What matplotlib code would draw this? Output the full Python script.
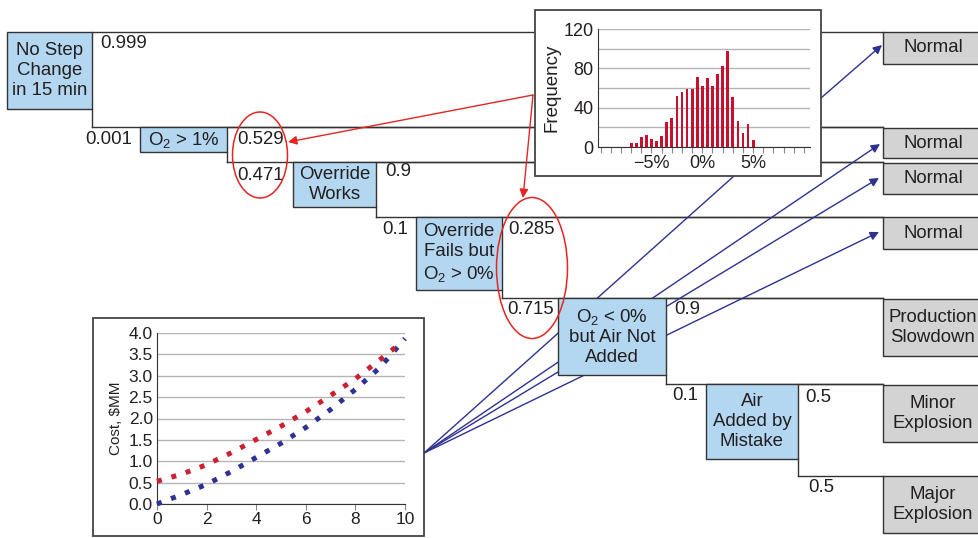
import matplotlib.pyplot as plt
from matplotlib.patches import Rectangle, Ellipse, FancyArrowPatch

plt.rcParams['font.family'] = ['Liberation Sans', 'DejaVu Sans']

# ---- tree data ----
node_labels = ["No Step\nChange\nin 15 min",
               "O$\\mathregular{_2}$ > 1%",
               "Override\nWorks",
               "Override\nFails but\nO$\\mathregular{_2}$ > 0%",
               "O$\\mathregular{_2}$ < 0%\nbut Air Not\nAdded",
               "Air\nAdded by\nMistake"]
prob_up = [0.999, 0.529, 0.9, 0.285, 0.9, 0.5]
prob_down = [0.001, 0.471, 0.1, 0.715, 0.1, 0.5]
outcome_labels = ["Normal", "Normal", "Normal", "Normal",
                  "Production\nSlowdown", "Minor\nExplosion", "Major\nExplosion"]

# ---- histogram inset data ----
hist_bins = [-7.0, -6.5, -6.0, -5.5, -5.0, -4.5, -4.0, -3.5, -3.0, -2.5, -2.0, -1.5,
             -1.0, -0.5, 0.0, 0.5, 1.0, 1.5, 2.0, 2.5, 3.0, 3.5, 4.0, 4.5, 5.0]
hist_freq = [4, 4, 10, 12, 8, 6, 11, 25, 30, 52, 56, 59,
             59, 71, 62, 70, 62, 74, 82, 98, 51, 26, 14, 23, 7]
hist_xlabels = {-5: "\u22125%", 0: "0%", 5: "5%"}
hist_ylabels = [0, 40, 80, 120]

# ---- cost inset data ----
cost_x_red = [0, 1, 2, 3, 4, 5, 6, 7, 8, 9, 9.6]
cost_red = [0.53, 0.70, 0.92, 1.20, 1.51, 1.82, 2.16, 2.54, 2.93, 3.38, 3.66]
cost_x_blue = [0, 1, 2, 3, 4, 5, 6, 7, 8, 9, 10]
cost_blue = [0.0, 0.22, 0.46, 0.76, 1.09, 1.42, 1.79, 2.21, 2.68, 3.20, 3.87]

# ---- layout (pixel coords, y down) ----
W, H = 979, 538
levels = [32, 127, 162, 217, 298, 384, 476]
node_x = [(7, 92), (140, 227), (293, 376), (416, 502), (558, 666), (706, 798)]
node_bottom = [109, 152, 207, 290, 375, 459]
end_x = 883
outcome_y = [(32, 64), (128, 158), (163, 194), (217, 249), (299, 356), (385, 442), (476, 533)]
up_pos = [(100, 43), (237, 139), (385, 171), (508, 229), (674, 309), (805, 398)]
down_pos = [(132, 140, 'right'), (237, 176, 'left'), (408, 229, 'right'),
            (507, 310, 'left'), (672, 396, 'left'), (808, 488, 'left')]
hist_frame = (535, 10, 821, 176)
cost_frame = (93, 318, 424, 536)

BOX_BLUE = '#b3d7f0'
BOX_GRAY = '#d3d3d3'
EDGE = '#333333'
TXT = '#231f20'
RED = '#e52521'
NAVY = '#2e3192'
FS = 13.4
LS = 1.22


def fig_rect(x0, y0, x1, y1):
    return [x0 / W, 1 - y1 / H, (x1 - x0) / W, (y1 - y0) / H]


fig = plt.figure(figsize=(W / 100, H / 100), dpi=100)
ax = fig.add_axes([0, 0, 1, 1])
ax.set_xlim(0, W)
ax.set_ylim(H, 0)
ax.axis('off')

# tree branches
for i, (x0, x1) in enumerate(node_x):
    top = levels[i]
    ax.plot([x1, end_x], [top, top], color=EDGE, lw=1.0, zorder=1)
    ax.plot([x1, x1], [node_bottom[i], levels[i + 1]], color=EDGE, lw=1.0, zorder=1)
    ax.plot([x1, end_x], [levels[i + 1], levels[i + 1]], color=EDGE, lw=1.0, zorder=1)

# chance nodes
for i, (x0, x1) in enumerate(node_x):
    top = levels[i]
    ax.add_patch(Rectangle((x0, top), x1 - x0, node_bottom[i] - top,
                           facecolor=BOX_BLUE, edgecolor=EDGE, lw=1.0, zorder=3))
    ax.text((x0 + x1) / 2, (top + node_bottom[i]) / 2, node_labels[i],
            ha='center', va='center', fontsize=FS, color=TXT,
            linespacing=LS, zorder=4)
    ux, uy = up_pos[i]
    ax.text(ux, uy, str(prob_up[i]), ha='left', va='center', fontsize=FS, color=TXT, zorder=4)
    dx, dy, al = down_pos[i]
    ax.text(dx, dy, str(prob_down[i]), ha=al, va='center', fontsize=FS, color=TXT, zorder=4)

# outcome boxes
for lab, (y0, y1) in zip(outcome_labels, outcome_y):
    ax.add_patch(Rectangle((end_x, y0), 120, y1 - y0, facecolor=BOX_GRAY,
                           edgecolor=EDGE, lw=1.0, zorder=3))
    ax.text(933, (y0 + y1) / 2, lab, ha='center', va='center', fontsize=FS,
            color=TXT, linespacing=LS, zorder=4)

# inset frames
for fx0, fy0, fx1, fy1 in (hist_frame, cost_frame):
    ax.add_patch(Rectangle((fx0, fy0), fx1 - fx0, fy1 - fy0, facecolor='white',
                           edgecolor='#444444', lw=1.3, zorder=3))

# blue connectors
src = (424, 453)
ax.plot([src[0], 734], [src[1], 176], color=NAVY, lw=1.0, zorder=2)
for tip in [(880, 144), (879, 178), (879, 232)]:
    ax.add_patch(FancyArrowPatch(src, tip, arrowstyle='-|>', mutation_scale=13,
                                 color=NAVY, lw=1.0, shrinkA=0, shrinkB=0, zorder=2))
ax.add_patch(FancyArrowPatch((821, 98), (882, 45), arrowstyle='-|>', mutation_scale=13,
                             color=NAVY, lw=1.0, shrinkA=0, shrinkB=0, zorder=2))

# red highlights
ax.add_patch(Ellipse((260, 155), 55, 86, fill=False, edgecolor=RED, lw=1.1, zorder=5))
ax.add_patch(Ellipse((532, 268), 71, 141, fill=False, edgecolor=RED, lw=1.1, zorder=5))
for tip in [(288, 142), (523, 198)]:
    ax.add_patch(FancyArrowPatch((533, 95), tip, arrowstyle='-|>', mutation_scale=13,
                                 color=RED, lw=1.0, shrinkA=0, shrinkB=0, zorder=6))

# histogram inset
hx = fig.add_axes(fig_rect(598, 29, 810, 147))
hx.set_facecolor('none')
hx.bar(hist_bins, hist_freq, width=0.27, color='#c8102e', zorder=3)
hx.set_xlim(-10.26, 10.59)
hx.set_ylim(0, 120)
hx.set_xticks(range(-10, 11))
hx.set_xticklabels([hist_xlabels.get(t, '') for t in range(-10, 11)], fontsize=13, color=TXT)
hx.set_yticks(range(0, 121, 20))
hx.set_yticklabels([str(v) if v in hist_ylabels else '' for v in range(0, 121, 20)],
                   fontsize=13, color=TXT)
hx.tick_params(axis='x', length=4, color='#888888', pad=2)
hx.tick_params(axis='y', length=0, pad=3)
hx.grid(axis='y', color='#b5b5b5', lw=1.0, zorder=0)
hx.set_ylabel('Frequency', fontsize=13.5, color=TXT, labelpad=2)
for s in ['top', 'right']:
    hx.spines[s].set_visible(False)
for s in ['left', 'bottom']:
    hx.spines[s].set_color('#333333')

# cost inset
cx = fig.add_axes(fig_rect(157, 333, 405, 504))
cx.set_facecolor('none')
cx.plot(cost_x_blue, cost_blue, color=NAVY, lw=3.6, linestyle=(0, (1, 2)),
        dash_capstyle='butt', clip_on=False, zorder=3)
cx.plot(cost_x_red, cost_red, color='#cc2030', lw=3.6, linestyle=(0, (1, 2)),
        dash_capstyle='butt', clip_on=False, zorder=3)
cx.set_xlim(0, 10)
cx.set_ylim(0, 4)
cx.set_xticks(range(0, 11, 2))
cx.set_yticks([v / 2 for v in range(0, 9)])
cx.set_yticklabels([f"{v / 2:.1f}" for v in range(0, 9)])
cx.tick_params(axis='both', labelsize=12.5, colors=TXT)
cx.tick_params(axis='x', length=4, color='#888888', pad=2)
cx.tick_params(axis='y', length=0, pad=3)
cx.grid(axis='y', color='#b5b5b5', lw=1.0, zorder=0)
cx.set_ylabel('Cost, $MM', fontsize=11, color=TXT, labelpad=4)
for s in ['top', 'right']:
    cx.spines[s].set_visible(False)
for s in ['left', 'bottom']:
    cx.spines[s].set_color('#333333')

fig.savefig('out.png', dpi=100)
